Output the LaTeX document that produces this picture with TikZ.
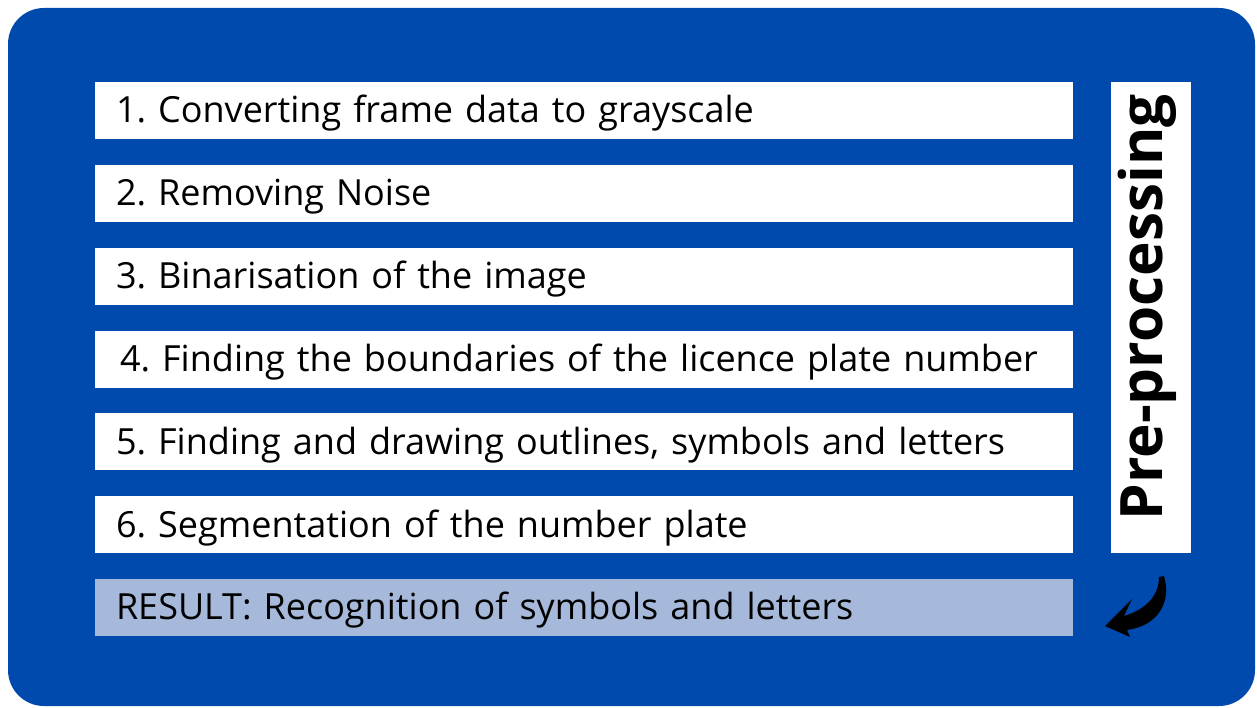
\documentclass[tikz,border=0pt]{standalone}
\usepackage{fontspec}
\setmainfont{Open Sans}
\frenchspacing
\definecolor{bgblue}{HTML}{004AAD}
\definecolor{resfill}{HTML}{A6B9DA}
\begin{document}
\begin{tikzpicture}[x=1pt,y=-1pt,
  stepbox/.style={fill=white, minimum width=978pt, minimum height=57pt, inner xsep=21pt,
     text width=936pt, align=left, text height=27pt, text depth=2pt, font=\fontsize{36}{40}\selectfont},
  resbox/.style={stepbox, fill=resfill},
  sidebox/.style={fill=white, minimum width=80pt, minimum height=471pt, inner sep=0pt},
  sidetext/.style={rotate=90, anchor=base, inner sep=0pt, font=\bfseries\fontsize{58.5}{64}\selectfont}]
\useasboundingbox (0,0) rectangle (1257,708);
\fill[white] (0,0) rectangle (1257,708);
\fill[bgblue, rounded corners=36pt] (8,8) rectangle (1255,706);
\node[stepbox] (s1) at (584,110.5) {1. Converting frame data to grayscale};
\node[stepbox] (s2) at (584,193.5) {2. Removing Noise};
\node[stepbox] (s3) at (584,276.5) {3. Binarisation of the image};
\node[stepbox] (s4) at (584,359) {\hspace*{4pt}4. Finding the boundaries of the licence plate number};
\node[stepbox] (s5) at (584,441.5) {5. Finding and drawing outlines, symbols and letters};
\node[stepbox] (s6) at (584,524.5) {6. Segmentation of the number plate};
\node[resbox] (res) at (584,607) {RESULT: Recognition of symbols and letters};
\node[sidebox] (pbox) at (1151,317.5) {};
\node[sidetext] (ptext) at (1162,307.5) {Pre-processing};
\fill[black] (1164,576) .. controls (1172,603) and (1157,626) .. (1127,630)
  -- (1130,637) -- (1105,626) -- (1132,599) -- (1124,616)
  .. controls (1147,609) and (1159,595) .. (1159,577) -- cycle;
\end{tikzpicture}
\end{document}
